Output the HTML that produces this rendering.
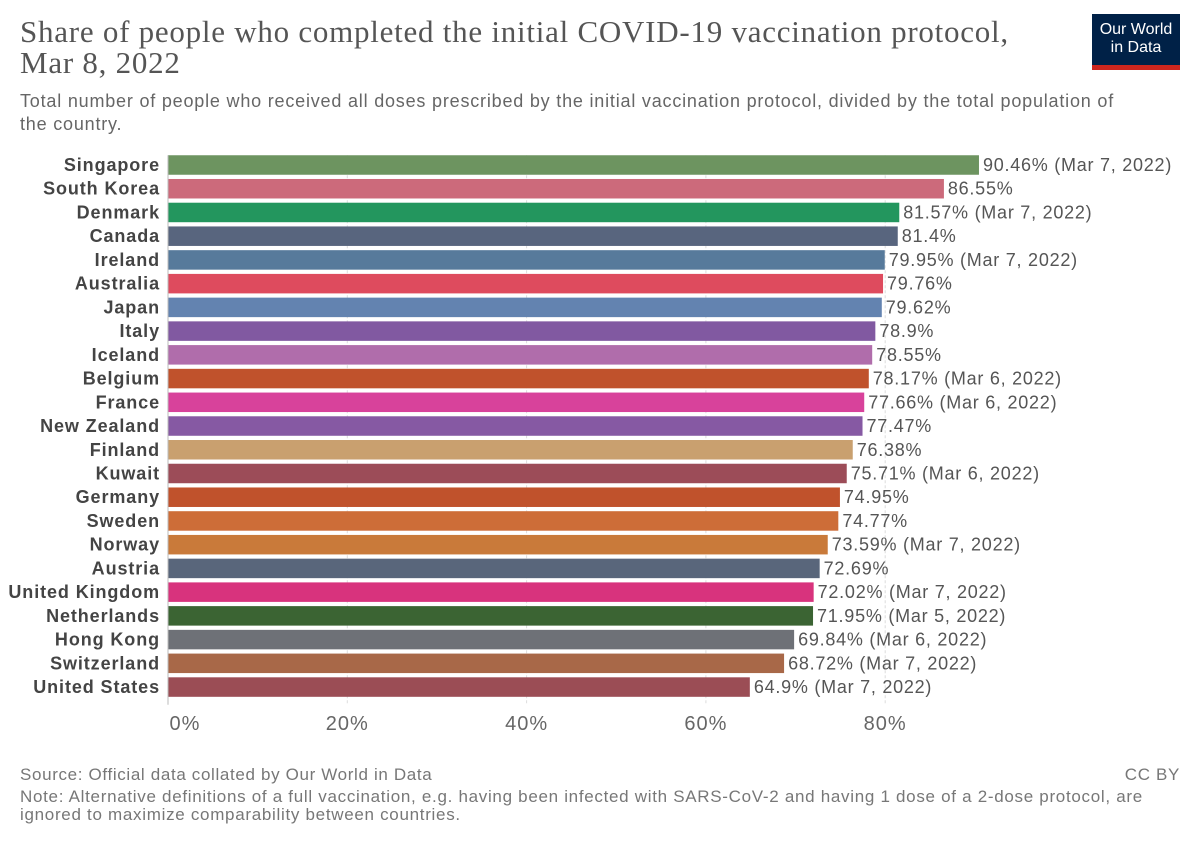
<!DOCTYPE html>
<html><head><meta charset="utf-8">
<style>
body{margin:0;width:1200px;height:847px;background:#fff;overflow:hidden;font-family:"Liberation Sans",sans-serif;}
.t{position:absolute;white-space:nowrap;}
</style></head><body>
<div class="t" style="left:20px;top:16px;font-family:'Liberation Serif',serif;font-size:31px;letter-spacing:0.75px;line-height:31px;color:#555;">Share of people who completed the initial COVID-19 vaccination protocol,<br>Mar 8, 2022</div>
<div class="t" style="left:20px;top:90px;font-size:18px;letter-spacing:0.8px;line-height:23px;color:#666;">Total number of people who received all doses prescribed by the initial vaccination protocol, divided by the total population of<br>the country.</div>
<div style="position:absolute;left:1092px;top:14px;width:88px;height:56px;background:#002147;">
<div style="color:#fff;font-size:16px;line-height:18px;text-align:center;padding-top:7px;">Our World<br>in Data</div>
<div style="position:absolute;left:0;bottom:0;width:88px;height:5px;background:#ce261e;"></div></div>
<svg id="chart" width="1200" height="847" style="position:absolute;left:0;top:0;pointer-events:none"></svg>
<div class="t" style="left:20px;top:765px;font-size:17px;letter-spacing:0.65px;color:#777;">Source: Official data collated by Our World in Data</div>
<div class="t" style="right:20px;top:765px;font-size:17px;letter-spacing:0.65px;color:#777;">CC BY</div>
<div class="t" style="left:20px;top:788px;font-size:17px;letter-spacing:0.7px;line-height:18px;color:#777;">Note: Alternative definitions of a full vaccination, e.g. having been infected with SARS-CoV-2 and having 1 dose of a 2-dose protocol, are<br>ignored to maximize comparability between countries.</div>
<script>
const countries=["Singapore","South Korea","Denmark","Canada","Ireland","Australia","Japan","Italy","Iceland","Belgium","France","New Zealand","Finland","Kuwait","Germany","Sweden","Norway","Austria","United Kingdom","Netherlands","Hong Kong","Switzerland","United States"];
const values=[90.46,86.55,81.57,81.4,79.95,79.76,79.62,78.9,78.55,78.17,77.66,77.47,76.38,75.71,74.95,74.77,73.59,72.69,72.02,71.95,69.84,68.72,64.9];
const valueLabels=["90.46%","86.55%","81.57%","81.4%","79.95%","79.76%","79.62%","78.9%","78.55%","78.17%","77.66%","77.47%","76.38%","75.71%","74.95%","74.77%","73.59%","72.69%","72.02%","71.95%","69.84%","68.72%","64.9%"];
const dates=["(Mar 7, 2022)","","(Mar 7, 2022)","","(Mar 7, 2022)","","","","","(Mar 6, 2022)","(Mar 6, 2022)","","","(Mar 6, 2022)","","","(Mar 7, 2022)","","(Mar 7, 2022)","(Mar 5, 2022)","(Mar 6, 2022)","(Mar 7, 2022)","(Mar 7, 2022)"];
const colors=["#6d9460","#cc6a7b","#23965e","#58657e","#577a9b","#de4b5e","#6383b0","#8159a1","#b06dab","#c0522c","#d8429b","#8659a3","#c9a06f","#9c4c58","#c0522c","#cd6d38","#c97a3a","#59667b","#d8337d","#3b6433","#6e7177","#a86848","#9b4d55"];
const ticks=[0,20,40,60,80];
const tickLabels=["0%","20%","40%","60%","80%"];
const svg=document.getElementById('chart');const NS="http://www.w3.org/2000/svg";
const x0=168,pxPer=8.965,y0=165,step=23.73,bh=19.5;
const X=v=>x0+v*pxPer, Y=i=>y0+i*step;
function mk(t,a){const e=document.createElementNS(NS,t);for(const k in a)e.setAttribute(k,a[k]);svg.appendChild(e);return e;}
ticks.forEach((t,i)=>{
 if(t>0){const g=mk('line',{x1:X(t),x2:X(t),y1:Y(0)-bh/2,y2:Y(countries.length-1)+bh/2+8,stroke:'#ddd','stroke-dasharray':'3,2'});
 
 }
 const l=mk('text',{x:X(t)+(t==0?17:0),y:730,'text-anchor':'middle','font-size':20,'letter-spacing':1,fill:'#666'});l.textContent=tickLabels[i];
 
 
});
countries.forEach((c,i)=>{
 const r=mk('rect',{x:x0,y:Y(i)-bh/2,width:X(values[i])-x0,height:bh,fill:colors[i]});
 
 
 const n=mk('text',{x:160,y:Y(i)+6,'text-anchor':'end','font-size':18,'letter-spacing':0.9,'font-weight':'bold',fill:'#444'});n.textContent=c;
 
 
 const v=mk('text',{x:X(values[i])+4,y:Y(i)+6,'font-size':18,'letter-spacing':0.75,fill:'#555'});v.textContent=valueLabels[i]+(dates[i]?' '+dates[i]:'');
 
 
});
const ax=mk('line',{x1:x0,x2:x0,y1:Y(0)-bh/2,y2:Y(countries.length-1)+bh/2+8,stroke:'#bbb'});


</script>
</body></html>
